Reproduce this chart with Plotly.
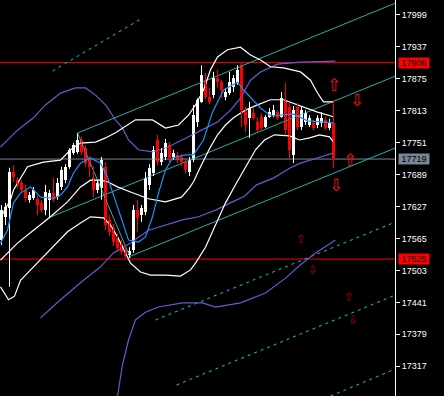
import plotly.graph_objects as go

# ---------------- candles (price units) ----------------
opens = [17562,17606,17624,17694,17678,17672,17659,17640,17643,17641,17634,17620,17640,17653,17645,17665,17678,17704,17731,17733,
         17756,17740,17721,17682,17659,17663,17704,17601,17585,17566,17554,17543,17533,17543,17620,17610,17616,17669,17692,17756,
         17713,17723,17746,17723,17727,17723,17713,17694,17717,17791,17830,17872,17839,17843,17876,17868,17839,17847,17859,17866,
         17901,17814,17799,17808,17791,17800,17781,17800,17804,17810,17800,17833,17820,17727,17820,17781,17791,17785,17789,17785,
         17789,17795,17779,17789]
closes = [17620,17626,17694,17684,17669,17659,17643,17649,17659,17630,17620,17655,17653,17640,17672,17698,17704,17737,17746,17756,
          17733,17711,17704,17659,17672,17717,17591,17577,17558,17546,17539,17531,17541,17620,17605,17624,17682,17702,17737,17713,
          17731,17750,17721,17731,17717,17713,17698,17717,17804,17833,17882,17839,17830,17876,17868,17853,17849,17868,17876,17892,
          17814,17785,17818,17799,17775,17779,17800,17810,17814,17799,17837,17775,17737,17814,17781,17814,17808,17799,17779,17799,
          17799,17779,17791,17721]
highs = [17630,17634,17702,17707,17684,17678,17669,17655,17665,17649,17640,17669,17659,17682,17682,17704,17709,17740,17750,17769,
         17762,17746,17725,17704,17678,17723,17713,17610,17593,17574,17562,17550,17548,17630,17640,17630,17694,17709,17744,17766,
         17740,17758,17752,17737,17733,17729,17721,17723,17824,17837,17901,17886,17857,17888,17892,17872,17857,17888,17882,17901,
         17905,17820,17830,17818,17800,17808,17804,17818,17824,17814,17849,17866,17828,17822,17828,17820,17814,17804,17795,17804,
         17810,17800,17797,17833]
lows = [17552,17591,17471,17674,17663,17653,17636,17634,17640,17610,17616,17610,17605,17636,17640,17659,17672,17700,17727,17729,
        17727,17704,17684,17645,17653,17640,17581,17570,17550,17539,17533,17527,17527,17537,17577,17597,17610,17659,17686,17707,
        17707,17717,17713,17717,17711,17705,17692,17686,17713,17781,17828,17835,17826,17837,17857,17837,17833,17843,17849,17863,
        17781,17771,17760,17795,17771,17775,17779,17799,17800,17795,17799,17766,17721,17711,17775,17775,17785,17781,17775,17779,
        17781,17775,17775,17702]

# ---------------- indicator lines (bar index, price) ----------------
bb_up_x = [-0.25,2.25,3.0,6.5,10.5,14.75,17.25,19.75,23.5,26.0,28.5,31.0,33.5,37.75,41.0,44.25,46.75,48.5,50.5,52.25,54.0,56.5,59.75,62.25,64.75,67.25,70.5,74.75,77.25,79.0,80.5,83.0]
bb_up_y = [17605,17640,17659,17704,17713,17717,17737,17750,17752,17760,17770,17783,17795,17795,17779,17785,17804,17824,17853,17892,17917,17931,17936,17921,17911,17898,17896,17888,17872,17847,17830,17830]
bb_mid_x = [-0.25,4.0,8.0,12.25,16.5,19.75,22.25,24.75,26.5,29.0,32.25,36.75,41.0,45.0,47.0,48.0,50.0,52.0,54.0,56.0,58.0,61.0,64.0,67.25,70.5,74.75,79.0,83.0]
bb_mid_y = [17523,17556,17581,17607,17636,17665,17678,17678,17675,17665,17655,17642,17636,17645,17663,17675,17708,17739,17766,17785,17799,17814,17824,17834,17834,17822,17810,17801]
bb_lo_x = [-0.25,1.75,3.25,4.75,8.0,12.25,16.5,19.75,22.25,25.5,27.25,29.0,30.5,32.25,34.75,37.25,41.0,44.75,47.25,48.5,51.0,53.5,56.0,58.5,61.0,63.5,65.75,68.25,72.0,74.5,77.0,79.5,82.0,83.0]
bb_lo_y = [17471,17446,17453,17484,17510,17543,17578,17595,17607,17605,17591,17568,17543,17517,17500,17494,17494,17492,17504,17517,17548,17591,17634,17669,17702,17737,17756,17766,17764,17756,17760,17766,17762,17752]

ma_fast_x = [-0.25,1.5,3.0,4.75,7.25,9.75,13.0,14.75,16.5,18.0,19.75,22.25,24.75,26.5,28.0,30.25,31.75,34.25,36.0,37.75,39.25,41.0,42.75,46.0,48.0,50.5,52.75,55.5,59.0,60.5,62.25,64.75,67.25,70.5,73.0,76.5,79.75,83.0]
ma_fast_y = [17556,17581,17634,17653,17665,17645,17643,17649,17665,17692,17711,17721,17711,17684,17649,17595,17562,17558,17568,17607,17653,17698,17721,17727,17727,17756,17810,17853,17868,17853,17839,17818,17803,17804,17806,17793,17791,17789]

env_up_x = [-0.25,4.0,8.0,11.0,14.75,18.5,21.0,23.5,26.0,28.5,30.25,31.75,34.25,37.75,41.0,44.25,47.75,51.0,54.0,57.25,59.75,62.25,64.75,69.0,74.75,83.5]
env_up_y = [17742,17775,17799,17824,17847,17857,17857,17843,17824,17795,17779,17756,17737,17733,17740,17752,17766,17779,17791,17814,17837,17872,17888,17903,17907,17909]
env_mid_x = [9.75,14.75,20.5,24.75,28.0,32.25,36.75,41.0,45.25,49.25,53.5,57.75,60.75,63.75,68.0,72.25,74.75,79.0,83.0]
env_mid_y = [17411,17446,17484,17510,17537,17556,17581,17591,17601,17607,17620,17636,17647,17669,17682,17702,17711,17721,17731]
env_lo_x = [29.0,30.25,31.75,33.5,36.0,39.25,45.25,50.25,53.5,59.75,66.0,71.0,74.75,78.5,83.5]
env_lo_y = [17259,17320,17368,17407,17422,17432,17440,17440,17432,17440,17459,17488,17514,17537,17562]

# ---------------- channel / trend lines: [x0, x1], [y0, y1] ----------------
chan_a = ([19.0, 98.5], [17769.5, 18021.5])
chan_b = ([12.25, 98.5], [17606.6, 17880.0])
chan_c = ([31.75, 98.5], [17529.0, 17740.6])
chan_diag = ([19.0, 32.25], [17769.5, 17527.1])
dot_0 = ([12.75, 35.25], [17889.8, 17992.6])
dot_1 = ([38.5, 98.5], [17406.8, 17596.9])
dot_2 = ([43.75, 98.5], [17280.7, 17455.3])
dot_3 = ([82.25, 98.5], [17259.4, 17311.8])

# ---------------- horizontal levels ----------------
levels = [17906, 17719, 17525]
level_colors = ["#FF0000", "#778899", "#FF0000"]

# ---------------- arrows ----------------
arrow_x = [83.0, 88.75, 87.0, 83.5, 74.75, 77.75, 86.75, 87.75]
arrow_y = [17862, 17833, 17717, 17669, 17564, 17504, 17451, 17407]
arrow_dir = ["up", "down", "up", "down", "up", "down", "up", "down"]
arrow_big = [True, True, True, True, False, False, False, False]

# ---------------- axis ticks ----------------
tick_vals = [17999, 17937, 17875, 17813, 17751, 17689, 17627, 17565, 17503, 17441, 17379, 17317]
y_range = [17259.4, 18027.5]
x_range = [-0.375, 98.375]

fig = go.Figure()

# horizontal level lines
for lv, col in zip(levels, level_colors):
    fig.add_trace(go.Scatter(x=x_range, y=[lv, lv], mode="lines",
                             line=dict(color=col, width=1), hoverinfo="skip", showlegend=False))

# channel lines
for ln in (chan_a, chan_b, chan_c, chan_diag):
    fig.add_trace(go.Scatter(x=ln[0], y=ln[1], mode="lines",
                             line=dict(color="#20B2AA", width=1), hoverinfo="skip", showlegend=False))
for ln in (dot_0, dot_1, dot_2, dot_3):
    fig.add_trace(go.Scatter(x=ln[0], y=ln[1], mode="lines",
                             line=dict(color="#00CED1", width=1, dash="3px,4px"), hoverinfo="skip", showlegend=False))

# envelopes (purple)
for xs, ys in ((env_up_x, env_up_y), (env_mid_x, env_mid_y), (env_lo_x, env_lo_y)):
    fig.add_trace(go.Scatter(x=xs, y=ys, mode="lines", line=dict(color="#6A5ACD", width=1.2),
                             hoverinfo="skip", showlegend=False))

# Bollinger bands (white)
for xs, ys in ((bb_up_x, bb_up_y), (bb_mid_x, bb_mid_y), (bb_lo_x, bb_lo_y)):
    fig.add_trace(go.Scatter(x=xs, y=ys, mode="lines", line=dict(color="#FFFFFF", width=1.2),
                             hoverinfo="skip", showlegend=False))

# candles: wicks
idx = list(range(len(opens)))
for bull, col in ((True, "#FFFFFF"), (False, "#FF0000")):
    wx, wy = [], []
    for i in idx:
        if (closes[i] >= opens[i]) == bull:
            wx += [i, i, None]
            wy += [lows[i], highs[i], None]
    fig.add_trace(go.Scatter(x=wx, y=wy, mode="lines", line=dict(color=col, width=1),
                             hoverinfo="skip", showlegend=False))

# candles: bodies
base = [min(o, c) for o, c in zip(opens, closes)]
height = [max(abs(c - o), 2) for o, c in zip(opens, closes)]
colors = ["#FFFFFF" if c >= o else "#FF0000" for o, c in zip(opens, closes)]
fig.add_trace(go.Bar(x=idx, y=height, base=base, width=0.75, marker=dict(color=colors, line=dict(width=0)),
                     hoverinfo="skip", showlegend=False))

# fast MA (blue) on top of candles
fig.add_trace(go.Scatter(x=ma_fast_x, y=ma_fast_y, mode="lines", line=dict(color="#1E90FF", width=1.2),
                         hoverinfo="skip", showlegend=False))

annotations = []
for ax, ay, d, big in zip(arrow_x, arrow_y, arrow_dir, arrow_big):
    annotations.append(dict(x=ax, y=ay, xref="x", yref="y", showarrow=False,
                            text="⇧" if d == "up" else "⇩",
                            font=dict(family="DejaVu Sans", size=17 if big else 12,
                                      color="#FF1010" if big else "#B00000")))
for lv, col in zip(levels, level_colors):
    annotations.append(dict(x=1, y=lv, xref="paper", yref="y", xanchor="left", yanchor="middle",
                            xshift=3, showarrow=False, text=str(lv), bgcolor=col,
                            width=30, height=10, borderpad=0,
                            font=dict(family="Liberation Sans", size=9, color="#000000")))

fig.update_layout(
    width=444, height=396,
    margin=dict(l=0, r=49, t=0, b=0),
    paper_bgcolor="#000000", plot_bgcolor="#000000",
    barmode="overlay", bargap=0,
    showlegend=False,
    annotations=annotations,
    xaxis=dict(range=x_range, visible=False, fixedrange=True),
    yaxis=dict(range=y_range, side="right", tickvals=tick_vals, ticktext=[str(v) for v in tick_vals],
               ticks="outside", ticklen=4, tickcolor="#FFFFFF", showline=True, linecolor="#FFFFFF",
               linewidth=1, showgrid=False, zeroline=False,
               tickfont=dict(family="Liberation Sans", size=9, color="#FFFFFF")),
)

fig.write_html("out.html", config={"displayModeBar": False},
               post_script="document.body.style.margin='0';document.body.style.overflow='hidden';document.body.style.background='#000';")
